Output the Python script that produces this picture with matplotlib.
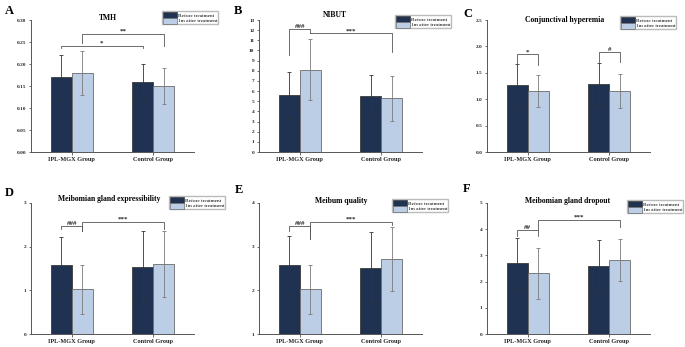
import matplotlib
matplotlib.use("Agg")
import matplotlib.pyplot as plt
from matplotlib.patches import Patch

plt.rcParams['font.family'] = ['Liberation Serif', 'DejaVu Serif']

# Data (mean and SD)
groups = ["IPL-MGX Group", "Control Group"]
legend_labels = ["Before treatment", "1m after treatment"]
titles = ["TMH", "NIBUT", "Conjunctival hyperemia",
          "Meibomian gland expressibility", "Meibum quality", "Meibomian gland dropout"]
letters = ["A", "B", "C", "D", "E", "F"]

before_a = [0.17, 0.16]; before_a_sd = [0.05, 0.04]
after_a = [0.18, 0.15]; after_a_sd = [0.05, 0.04]
before_b = [5.6, 5.5]; before_b_sd = [2.3, 2.1]
after_b = [8.1, 5.3]; after_b_sd = [3.0, 2.2]
before_c = [1.26, 1.29]; before_c_sd = [0.40, 0.40]
after_c = [1.16, 1.15]; after_c_sd = [0.30, 0.32]
before_d = [1.57, 1.53]; before_d_sd = [0.66, 0.82]
after_d = [1.02, 1.60]; after_d_sd = [0.56, 0.76]
before_e = [2.58, 2.52]; before_e_sd = [0.66, 0.81]
after_e = [2.02, 2.72]; after_e_sd = [0.56, 0.73]
before_f = [2.70, 2.58]; before_f_sd = [0.97, 1.01]
after_f = [2.32, 2.83]; after_f_sd = [0.97, 0.80]

# significance brackets: (bar from, bar to, height, left end, right end, label)
# bar index: 0 IPL before, 1 IPL after, 2 control before, 3 control after
sig_a = [(0, 2, 0.242, 0.236, 0.236, "*"), (1, 3, 0.269, 0.248, 0.240, "**")]
sig_b = [(0, 1, 12.1, 9.6, 11.7, "###"), (1, 3, 11.7, 11.7, 9.8, "***")]
sig_c = [(0, 1, 1.85, 1.65, 1.65, "*"), (2, 3, 1.90, 1.71, 1.71, "#")]
sig_d = [(0, 1, 2.48, 2.40, 2.35, "###"), (1, 3, 2.57, 2.35, 2.41, "***")]
sig_e = [(0, 1, 3.47, 3.35, 3.18, "###"), (1, 3, 3.57, 3.18, 3.49, "***")]
sig_f = [(0, 1, 3.97, 3.74, 3.74, "##"), (1, 3, 4.35, 3.97, 4.09, "***")]

ylims = [(0, 0.30, 0.05, "{:.2f}"), (0, 13, 1, "{:.0f}"), (0, 2.5, 0.5, "{:.1f}"),
         (0, 3, 1, "{:.0f}"), (1, 4, 1, "{:.0f}"), (0, 5, 1, "{:.0f}")]

panels = [(before_a, before_a_sd, after_a, after_a_sd, sig_a),
          (before_b, before_b_sd, after_b, after_b_sd, sig_b),
          (before_c, before_c_sd, after_c, after_c_sd, sig_c),
          (before_d, before_d_sd, after_d, after_d_sd, sig_d),
          (before_e, before_e_sd, after_e, after_e_sd, sig_e),
          (before_f, before_f_sd, after_f, after_f_sd, sig_f)]

dark = "#1f3251"
light = "#bccde6"
W, H = 685, 347

# pixel layout
axes_px = [(31, 20, 163, 132), (259, 20, 163, 132), (487, 20, 163, 132),
           (31, 203, 163, 131), (259, 203, 163, 131), (487, 203, 163, 131)]
legend_px = [(162, 11), (395, 15), (620, 16), (169, 196), (392, 199), (627, 200)]
letter_px = [(5, 11), (234, 11), (463, 14), (5, 193), (235, 190), (463, 189)]
title_px = [(108, 18), (335, 15), (565, 20), (109, 199), (341, 201), (568, 201)]

fig = plt.figure(figsize=(W / 100, H / 100), dpi=100)
w = 0.26
x = [0, 1]

for i, (bef, bef_sd, aft, aft_sd, sig) in enumerate(panels):
    l, t, aw, ah = axes_px[i]
    ax = fig.add_axes([l / W, 1 - (t + ah) / H, aw / W, ah / H])
    xb = [v - w / 2 for v in x]
    xa = [v + w / 2 for v in x]
    ax.bar(xb, bef, width=w, color=dark, edgecolor="#3a3a3a", linewidth=0.6)
    ax.bar(xa, aft, width=w, color=light, edgecolor="#6b6b6b", linewidth=0.6)
    ax.errorbar(xb, bef, yerr=bef_sd, fmt="none", ecolor="#333333",
                elinewidth=0.6, capsize=1.2, capthick=0.6)
    ax.errorbar(xa, aft, yerr=aft_sd, fmt="none", ecolor="#7a7a7a",
                elinewidth=0.6, capsize=1.2, capthick=0.6)

    pos = [xb[0], xa[0], xb[1], xa[1]]
    for a, b, yh, yl, yr, lab in sig:
        ax.plot([pos[a], pos[a], pos[b], pos[b]], [yl, yh, yh, yr],
                color="#555555", lw=0.6, clip_on=False)
        ax.text((pos[a] + pos[b]) / 2, yh, lab, ha="center", va="bottom",
                fontsize=5, fontweight="bold", color="#222222")

    y0, y1, step, fmt = ylims[i]
    ax.set_ylim(y0, y1)
    ticks = []
    v = y0
    while v <= y1 + 1e-9:
        ticks.append(v)
        v += step
    ax.set_yticks(ticks)
    ax.set_yticklabels([fmt.format(tk) for tk in ticks], fontsize=3.8, fontweight="bold")
    ax.set_xlim(-0.5, 1.5)
    ax.set_xticks(x)
    ax.set_xticklabels(groups, fontsize=4.5, fontweight="bold")
    for s in ["top", "right"]:
        ax.spines[s].set_visible(False)
    for s in ["left", "bottom"]:
        ax.spines[s].set_color("#555555")
        ax.spines[s].set_linewidth(0.7)
    ax.tick_params(axis="both", length=1.8, width=0.6, pad=1.5, colors="#555555",
                   labelcolor="#222222")

    tx, ty = title_px[i]
    fig.text(tx / W, 1 - ty / H, titles[i], ha="center", va="center",
             fontsize=5.5, fontweight="bold")
    lx, ly = letter_px[i]
    fig.text(lx / W, 1 - ly / H, letters[i], ha="left", va="center",
             fontsize=9, fontweight="bold")

    gx, gy = legend_px[i]
    handles = [Patch(facecolor=dark, edgecolor="#3a3a3a", linewidth=0.5),
               Patch(facecolor=light, edgecolor="#6b6b6b", linewidth=0.5)]
    fig.legend(handles, legend_labels, loc="upper left",
               bbox_to_anchor=(gx / W, 1 - gy / H), fontsize=3.9,
               frameon=True, fancybox=False, edgecolor="#bbbbbb",
               borderpad=0.15, handlelength=2.6, handleheight=1.3,
               handletextpad=0.2, labelspacing=0.0, borderaxespad=0,
               framealpha=1)

fig.savefig("out.png", dpi=100)
